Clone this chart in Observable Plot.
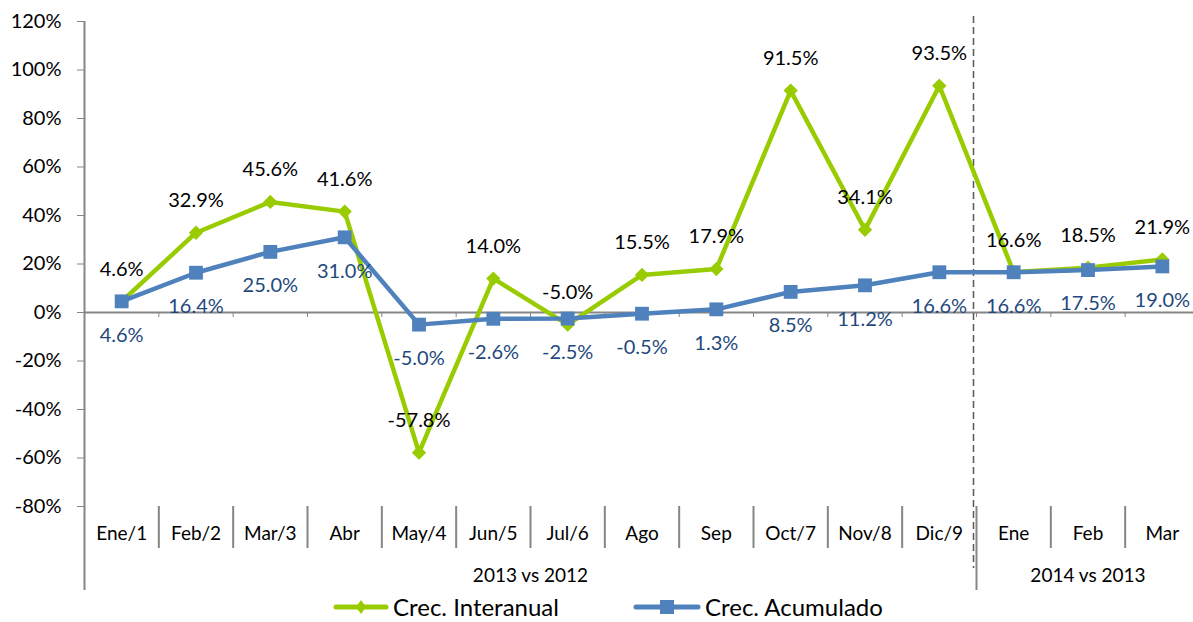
<!DOCTYPE html>
<html>
<head>
<meta charset="utf-8">
<script src="https://cdn.jsdelivr.net/npm/d3@7"></script>
<script src="https://cdn.jsdelivr.net/npm/@observablehq/plot@0.6"></script>
<style>
  html, body { margin: 0; padding: 0; background: #fff; overflow: hidden; }
  body { font-family: Lato, "Open Sans", sans-serif; }
  #chart svg { overflow: visible; display: block; }
  .legend { position: relative; height: 26px; font-size: 24px; color: #000; }
  .legend .item { position: absolute; top: 1px; display: flex; align-items: center; height: 20px; line-height: 20px; }
  .legend svg { display: block; margin-right: 4px; }
</style>
</head>
<body>
<div id="chart"></div>
<div class="legend" id="legend"></div>
<script>
// ---- data ----
const categories = ["Ene/1","Feb/2","Mar/3","Abr","May/4","Jun/5","Jul/6","Ago","Sep","Oct/7","Nov/8","Dic/9","Ene","Feb","Mar"];
const interanual = [4.6, 32.9, 45.6, 41.6, -57.8, 14.0, -5.0, 15.5, 17.9, 91.5, 34.1, 93.5, 16.6, 18.5, 21.9];
const acumulado  = [4.6, 16.4, 25.0, 31.0, -5.0, -2.6, -2.5, -0.5, 1.3, 8.5, 11.2, 16.6, 16.6, 17.5, 19.0];
const groups = [
  {label: "2013 vs 2012", start: 0, end: 12},
  {label: "2014 vs 2013", start: 12, end: 15}
];
const yTicks = [-0.8, -0.6, -0.4, -0.2, 0, 0.2, 0.4, 0.6, 0.8, 1.0, 1.2];
const seriesNames = ["Crec. Interanual", "Crec. Acumulado"];

const green = "#99CC00";
const blue = "#4F81BD";
const gray = "#868686";

const rows = (vals) => vals.map((v, i) => ({i: i + 0.5, v: v / 100, cat: categories[i]}));
const gRows = rows(interanual);
const bRows = rows(acumulado);
const bounds = d3.range(0, categories.length + 1);
const innerBounds = bounds.filter(b => b > 0 && b < categories.length && b !== 12);
const pct = d => d.toFixed(1) + "%";
const tickPct = d => Math.round(d * 100) + "%";

const chart = Plot.plot({
  width: 1193,
  height: 596,
  marginLeft: 84,
  marginRight: -6,
  marginTop: 21,
  marginBottom: 90,
  style: {fontFamily: "Lato, 'Open Sans', sans-serif", background: "#fff", overflow: "visible"},
  x: {type: "linear", domain: [0, categories.length], axis: null},
  y: {domain: [-0.8, 1.2], axis: null},
  marks: [
    // y axis
    Plot.axisY({ticks: yTicks, tickFormat: tickPct, tickSize: 7, tickPadding: 16, fontSize: 20, stroke: gray, fill: "#000", label: null}),
    // zero line
    Plot.ruleY([0], {stroke: gray, strokeWidth: 2}),
    Plot.ruleX(bounds.slice(1), {y1: 0, y2: 0, insetBottom: -5, stroke: gray, strokeWidth: 1}),
    // y axis line extended into category area
    Plot.ruleX([0], {y1: 1.2, y2: -0.8, insetBottom: -84, stroke: gray, strokeWidth: 2}),
    // category dividers
    Plot.ruleX(innerBounds, {y1: -0.8, y2: -0.8, insetBottom: -42, stroke: gray, strokeWidth: 2}),
    Plot.ruleX([12], {y1: -0.8, y2: -0.8, insetBottom: -84, stroke: gray, strokeWidth: 2}),
    // dashed separator
    Plot.ruleX([12], {y1: 1.2, y2: -0.8, insetTop: -5, insetBottom: -62, dx: -3, stroke: "#595959", strokeWidth: 1.5, strokeDasharray: "7,4"}),
    // category labels
    Plot.text(categories, {x: (d, i) => i + 0.5, y: () => -0.8, dy: 27, text: d => d, fontSize: 19, fill: "#000"}),
    // group labels
    Plot.text(groups, {x: d => (d.start + d.end) / 2, y: () => -0.8, dy: 69, text: "label", fontSize: 19, fill: "#000"}),
    // lines
    Plot.line(gRows, {x: "i", y: "v", stroke: green, strokeWidth: 4.5}),
    Plot.dot(gRows, {x: "i", y: "v", symbol: "diamond2", r: 5.5, fill: green, stroke: green}),
    Plot.line(bRows, {x: "i", y: "v", stroke: blue, strokeWidth: 4.5}),
    Plot.dot(bRows, {x: "i", y: "v", symbol: "square", r: 7.8, fill: blue}),
    // data labels
    Plot.text(gRows, {x: "i", y: "v", dy: -32, text: d => pct(d.v * 100), fontSize: 20, fill: "#000"}),
    Plot.text(bRows, {x: "i", y: "v", dy: 34, text: d => pct(d.v * 100), fontSize: 20, fill: "#1F497D"})
  ]
});
document.getElementById("chart").appendChild(chart);

// legend
const legend = document.getElementById("legend");
const legendItems = [
  {name: seriesNames[0], color: green, left: 333, w: 56, marker: "diamond"},
  {name: seriesNames[1], color: blue, left: 633, w: 68, marker: "square"}
];
legendItems.forEach(it => {
  const div = document.createElement("div");
  div.className = "item";
  div.style.left = it.left + "px";
  const m = it.marker === "square"
    ? `<rect x="${it.w/2 - 7}" y="3" width="14" height="14" fill="${it.color}"/>`
    : `<path d="M${it.w/2} 3 L${it.w/2 + 5} 10 L${it.w/2} 17 L${it.w/2 - 5} 10 Z" fill="${it.color}"/>`;
  div.innerHTML = `<svg width="${it.w}" height="20"><line x1="3" x2="${it.w - 3}" y1="10" y2="10" stroke="${it.color}" stroke-width="5" stroke-linecap="round"/>${m}</svg><span>${it.name}</span>`;
  legend.appendChild(div);
});
</script>
</body>
</html>
